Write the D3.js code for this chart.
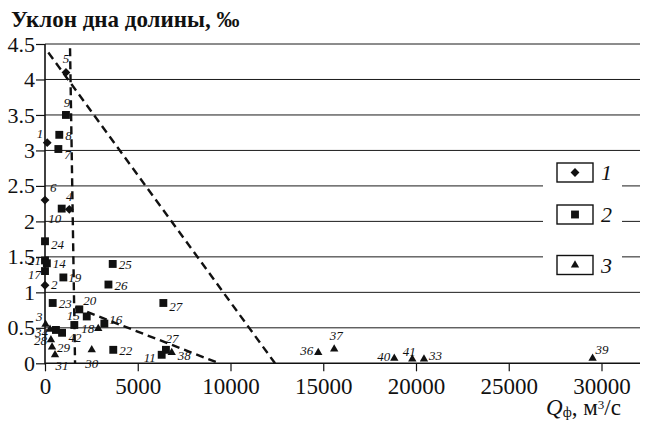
<!DOCTYPE html>
<html><head><meta charset="utf-8">
<script src="https://cdn.jsdelivr.net/npm/d3@7"></script>
<style>body{margin:0;background:#fff}svg{display:block}svg text{font-family:"Liberation Serif","Tinos","Times New Roman","DejaVu Serif",serif !important;fill:#111}</style>
</head><body><div id="c"></div>
<script>
// ---- data ----
const yTicks = [0,0.5,1,1.5,2,2.5,3,3.5,4,4.5];
const yTickLabels = ["0","0.5","1","1.5","2","2.5","3","3.5","4","4.5"];
const xTicks = [0,5000,10000,15000,20000,25000,30000];
const xTickLabels = ["0","5000","10000","15000","20000","25000","30000"];
const legendLabels = ["1","2","3"];
// group 1 (diamonds): [id, Q, slope]
const group1 = [["5",1130,4.10],["1",120,3.11],["6",0,2.30],["4",1310,2.17],["2",0,1.10]];
// group 2 (squares)
const group2 = [["9",1130,3.50],["8",770,3.22],["7",720,3.02],["10",900,2.18],["24",0,1.72],
  ["21",0,1.45],["14",100,1.41],["17",0,1.30],["19",990,1.21],["23",415,0.85],["20",1850,0.76],
  ["",2250,0.66],["15",1580,0.54],["16",3200,0.56],["",590,0.47],["42",920,0.43],["22",3680,0.19],
  ["25",3650,1.40],["26",3420,1.11],["27",6380,0.85],["27",6520,0.19],["11",6290,0.12]];
// group 3 (triangles)
const group3 = [["3",30,0.55],["34",270,0.48],["28",320,0.33],["29",380,0.23],["31",540,0.12],
  ["30",2520,0.19],["18",2870,0.49],["38",6830,0.15],["36",14730,0.15],["37",15590,0.20],
  ["40",18830,0.07],["41",19800,0.06],["33",20430,0.06],["39",29520,0.07]];
// envelope dashed lines: [Q, slope] pairs
const lineA = [[180,4.38],[12400,0]];
const lineB = [[1350,4.44],[1620,0]];
const lineC = [[1620,0.79],[9390,0]];

// ---- label placement (layout only) ----
const lab = {
 "1:5":[0,-9,"middle"],"1:1":[-4,-5,"end"],"1:6":[5,-8,"start"],"1:4":[0,-8,"middle"],"1:2":[6,4,"start"],
 "2:9":[1,-8,"middle"],"2:8":[6,5,"start"],"2:7":[6,10,"start"],"2:10":[-7,14,"middle"],"2:24":[6,8,"start"],
 "2:21":[-4,5,"end"],"2:14":[6,5,"start"],"2:17":[-4,8,"end"],"2:19":[5,5,"start"],"2:23":[6,5,"start"],
 "2:20":[4,-4,"start"],"2:15":[-1,-5,"middle"],"2:16":[5,0,"start"],"2:42":[13,9,"middle"],"2:22":[6,5,"start"],
 "2:25":[6,5,"start"],"2:26":[6,5,"start"],"2:27a":[6,8,"start"],"2:27b":[6,-7,"middle"],"2:11":[-6,7,"end"],
 "3:3":[-3,-3,"end"],"3:34":[-2,8,"end"],"3:28":[-4,5,"end"],"3:29":[5,5,"start"],"3:31":[7,15,"middle"],
 "3:30":[0,18,"middle"],"3:18":[-4,4,"end"],"3:38":[6,7,"start"],"3:36":[-5,2,"end"],"3:37":[2,-9,"middle"],
 "3:40":[-4,3,"end"],"3:41":[-3,-3,"middle"],"3:33":[5,1,"start"],"3:39":[3,-4,"start"]
};

const W=645,H=422;
const svg=d3.select("#c").append("svg").attr("width",W).attr("height",H);
const x=d3.scaleLinear().domain([0,30000]).range([45,601.5]);
const y=d3.scaleLinear().domain([0,4.5]).range([363.3,44]);
const right=640;

// gridlines
svg.append("g").selectAll("line").data(yTicks.filter(d=>d>0)).join("line")
 .attr("x1",x(0)).attr("x2",right).attr("y1",d=>y(d)).attr("y2",d=>y(d))
 .attr("stroke","#1a1a1a").attr("stroke-width",1);

// axes
const yAxis=d3.axisLeft(y).tickValues(yTicks).tickFormat((d,i)=>yTickLabels[i]).tickSize(9).tickPadding(1);
const gy=svg.append("g").attr("transform",`translate(${x(0)},0)`).call(yAxis);
const xAxis=d3.axisBottom(x).tickValues(xTicks).tickFormat((d,i)=>xTickLabels[i]).tickSize(8).tickPadding(6);
const gx=svg.append("g").attr("transform",`translate(0,${y(0)})`).call(xAxis);
[gx,gy].forEach(g=>{g.attr("font-family",null);g.select(".domain").remove();g.selectAll("line").attr("stroke","#111").attr("stroke-width",1.2);
 g.selectAll("text").attr("font-size",22).attr("fill","#111");});
gx.selectAll("text").attr("font-size",23);
svg.append("line").attr("x1",x(0)).attr("x2",x(0)).attr("y1",y(0)+1).attr("y2",y(4.5)).attr("stroke","#111").attr("stroke-width",1.6);
svg.append("line").attr("x1",x(0)).attr("x2",right).attr("y1",y(0)).attr("y2",y(0)).attr("stroke","#111").attr("stroke-width",1.6);

// dashed envelope lines
const ln=d3.line().x(d=>x(d[0])).y(d=>y(d[1]));
[lineA,lineB,lineC].forEach(L=>svg.append("path").attr("d",ln(L)).attr("fill","none")
 .attr("stroke","#111").attr("stroke-width",2.4).attr("stroke-dasharray","8,5"));

// markers
const sym=[d3.symbol().type(d3.symbolDiamond2).size(50),d3.symbol().type(d3.symbolSquare).size(62),d3.symbol().type(d3.symbolTriangle2).size(50)];
const groups=[group1,group2,group3];
groups.forEach((G,gi)=>{
 const g=svg.append("g");
 let seen27=0;
 G.forEach(p=>{
  const cx=x(p[1]),cy=y(p[2]);
  g.append("path").attr("d",sym[gi]()).attr("transform",`translate(${cx},${cy})`).attr("fill","#111");
  if(!p[0])return;
  let key=(gi+1)+":"+p[0];
  if(key==="2:27"){key+= (seen27++===0?"a":"b");}
  const o=lab[key]||[6,4,"start"];
  g.append("text").attr("x",cx+o[0]).attr("y",cy+o[1]).attr("text-anchor",o[2])
   .attr("font-size",13).attr("font-style","italic").text(p[0]);
 });
});

// legend
const lg=svg.append("g");
lg.append("rect").attr("x",543).attr("y",156).attr("width",79).attr("height",124).attr("fill","#fff");
const legY=[172.5,214.5,265];
legendLabels.forEach((t,i)=>{
 lg.append("rect").attr("x",557).attr("y",legY[i]-9.5).attr("width",36).attr("height",19)
  .attr("fill","#fff").attr("stroke","#111").attr("stroke-width",1.4);
 lg.append("path").attr("d",sym[i]()).attr("transform",`translate(575,${legY[i]})`).attr("fill","#111");
 lg.append("text").attr("x",601).attr("y",legY[i]+7.5).attr("font-size",22).attr("font-style","italic").text(t);
});

// titles
svg.append("text").attr("x",11).attr("y",27).attr("font-size",23).attr("font-weight","bold").text("Уклон дна долины, ‰");
const xl=svg.append("text").attr("x",546).attr("y",415).attr("font-size",23);
xl.append("tspan").attr("font-style","italic").text("Q");
xl.append("tspan").attr("font-size",14).attr("dy",2).text("ф");
xl.append("tspan").attr("dy",-2).text(", м");
xl.append("tspan").attr("font-size",13).attr("dy",-6).text("3");
xl.append("tspan").attr("dy",6).text("/с");
</script></body></html>
